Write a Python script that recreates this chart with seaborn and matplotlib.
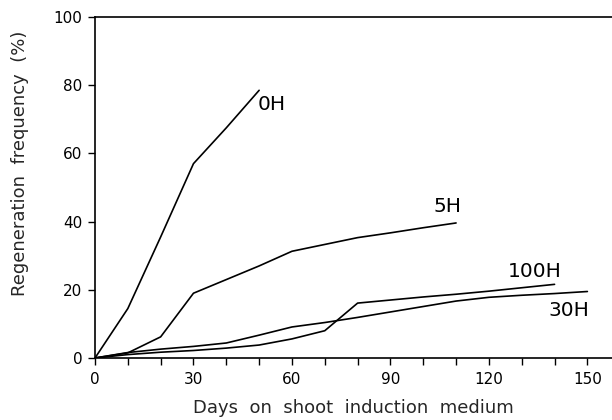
import matplotlib
matplotlib.use("Agg")
import matplotlib.pyplot as plt
import seaborn as sns
import pandas as pd
from matplotlib.ticker import MultipleLocator

# ---- data ----
days_0h = [0, 10, 20, 30, 40, 50]
freq_0h = [0, 14.5, 35.5, 57, 67.5, 78.5]

days_5h = [0, 10, 20, 30, 40, 50, 60, 70, 80, 90, 100, 110]
freq_5h = [0, 1.5, 6.2, 19, 23, 27, 31.3, 33.3, 35.3, 36.7, 38.2, 39.6]

days_30h = [0, 10, 20, 30, 40, 50, 60, 70, 80, 90, 100, 110, 120, 130, 140, 150]
freq_30h = [0, 1.6, 2.6, 3.4, 4.4, 6.7, 9.1, 10.4, 11.9, 13.5, 15.1, 16.7, 17.8, 18.4, 18.9, 19.5]

days_100h = [0, 10, 20, 30, 40, 50, 60, 70, 80, 90, 100, 110, 120, 130, 140]
freq_100h = [0, 1.0, 1.7, 2.2, 2.9, 3.8, 5.6, 8.0, 16.1, 17.0, 17.9, 18.7, 19.6, 20.6, 21.6]

series_names = ["0H", "5H", "30H", "100H"]
label_pos = {"0H": (53.7, 74.2), "5H": (107.3, 44.3), "100H": (134.1, 25.5), "30H": (144.5, 13.8)}

frames = []
for name, d, f in [("0H", days_0h, freq_0h), ("5H", days_5h, freq_5h),
                   ("30H", days_30h, freq_30h), ("100H", days_100h, freq_100h)]:
    frames.append(pd.DataFrame({"day": d, "freq": f, "series": name}))
df = pd.concat(frames, ignore_index=True)

sns.set_style("ticks")
plt.rcParams["font.family"] = ["DejaVu Sans"]

fig = plt.figure(figsize=(6.12, 4.2), dpi=100)
ax = fig.add_axes([95 / 612, 1 - 358 / 420, 517 / 612, 341 / 420])

sns.lineplot(data=df, x="day", y="freq", hue="series", hue_order=series_names,
             palette=["black"] * 4, linewidth=1.2, legend=False, ax=ax,
             sort=False, estimator=None)

for name, (x, y) in label_pos.items():
    ax.text(x, y, name, ha="center", va="center", fontsize=14.5, color="black")

ax.set_xlim(0, 157.5)
ax.set_ylim(0, 100)
ax.xaxis.set_major_locator(MultipleLocator(30))
ax.xaxis.set_minor_locator(MultipleLocator(10))
ax.yaxis.set_major_locator(MultipleLocator(20))
ax.tick_params(axis="both", which="both", direction="out", length=5, width=1,
               labelsize=11, color="black", labelcolor="black")
ax.tick_params(axis="x", which="both", pad=5)
ax.tick_params(axis="y", pad=4)

for side in ["left", "bottom", "top"]:
    ax.spines[side].set_visible(True)
    ax.spines[side].set_color("black")
    ax.spines[side].set_linewidth(1.2)
ax.spines["right"].set_visible(False)

ax.set_xlabel("Days  on  shoot  induction  medium", fontsize=13, va="center")
ax.set_ylabel("Regeneration  frequency  (%)", fontsize=13, va="center")
ax.xaxis.set_label_coords(0.5, -0.147)
ax.yaxis.set_label_coords(-0.146, 0.572)

fig.savefig("out.png", dpi=100)
